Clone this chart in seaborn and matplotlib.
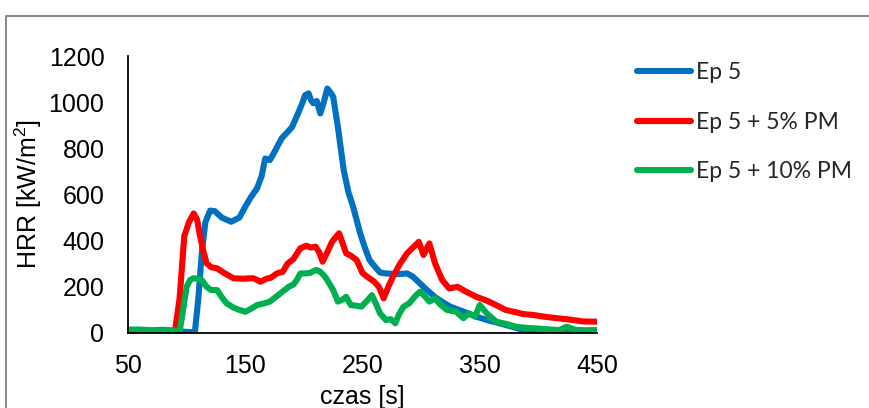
import numpy as np
import pandas as pd
import matplotlib
matplotlib.use("Agg")
import matplotlib.pyplot as plt
import seaborn as sns
from matplotlib.lines import Line2D

# ---- data ----
t_ep5 = [50, 70, 90, 100, 107, 110, 113, 116, 120, 124, 130, 138, 145, 150, 155, 160, 164, 167, 171,
         175, 181, 186, 190, 195, 199, 201, 204, 206, 208, 211, 214, 217, 220, 223, 225, 229, 234,
         238, 242, 248, 252, 256, 261, 265, 270, 280, 288, 293, 299, 305, 312, 318, 325, 335, 347,
         357, 367, 377, 387, 395, 410, 430, 450]
v_ep5 = [10, 10, 8, 5, 3, 150, 350, 480, 530, 528, 500, 482, 500, 547, 590, 626, 680, 756, 749,
         785, 843, 870, 893, 951, 1000, 1030, 1038, 1010, 995, 1005, 951, 1000, 1059, 1040, 1023, 893, 705,
         610, 547, 432, 370, 316, 285, 262, 258, 255, 258, 244, 215, 186, 155, 135, 114, 95, 71,
         55, 42, 28, 13, 8, 6, 5, 5]

t_pm5 = [50, 70, 85, 90, 94, 98, 102, 106, 109, 111, 114, 117, 121, 126, 132, 140, 148, 154, 157,
         160, 163, 168, 172, 177, 182, 186, 191, 197, 202, 206, 210, 213, 216, 220, 224, 228, 230,
         233, 236, 240, 245, 250, 254, 260, 264, 268, 272, 276, 282, 288, 294, 298, 302, 307, 312,
         318, 324, 331, 338, 347, 356, 364, 372, 379, 387, 396, 406, 416, 427, 438, 450]
v_pm5 = [8, 8, 8, 5, 150, 420, 480, 518, 490, 432, 360, 302, 285, 280, 260, 237, 235, 237, 237,
         230, 222, 235, 240, 258, 265, 300, 320, 367, 378, 370, 374, 350, 309, 350, 395, 420, 432,
         390, 345, 335, 316, 260, 244, 222, 200, 150, 200, 244, 300, 345, 375, 395, 338, 388, 300,
         229, 193, 200, 180, 157, 140, 121, 100, 92, 82, 78, 70, 64, 58, 50, 49]

t_pm10 = [50, 60, 70, 80, 88, 94, 97, 100, 103, 106, 110, 113, 117, 121, 126, 130, 134, 140, 145,
          150, 155, 160, 166, 171, 177, 182, 187, 191, 194, 197, 201, 205, 209, 211, 214, 217, 220,
          225, 229, 233, 236, 240, 245, 249, 254, 258, 262, 265, 270, 274, 278, 281, 285, 290, 295,
          299, 303, 307, 312, 316, 322, 330, 336, 341, 346, 350, 356, 364, 372, 381, 390, 398, 410,
          418, 424, 432, 440, 450]
v_pm10 = [15, 15, 12, 14, 12, 5, 100, 200, 230, 237, 235, 229, 200, 186, 186, 155, 129, 110, 100,
          92, 105, 121, 128, 136, 160, 180, 200, 210, 230, 258, 258, 260, 270, 273, 265, 250, 229,
          186, 136, 145, 157, 121, 118, 114, 140, 164, 120, 85, 56, 60, 42, 80, 114, 129, 160,
          179, 160, 136, 150, 125, 100, 92, 64, 85, 71, 121, 85, 49, 40, 27, 22, 20, 15,
          13, 27, 13, 12, 13]

series_names = ["Ep 5", "Ep 5 + 5% PM", "Ep 5 + 10% PM"]
series_colors = ["#0070C0", "#FF0000", "#00B050"]
x_ticks = [50, 150, 250, 350, 450]
y_ticks = [0, 200, 400, 600, 800, 1000, 1200]

df = pd.concat([
    pd.DataFrame({"czas": t_ep5, "HRR": v_ep5, "seria": series_names[0]}),
    pd.DataFrame({"czas": t_pm5, "HRR": v_pm5, "seria": series_names[1]}),
    pd.DataFrame({"czas": t_pm10, "HRR": v_pm10, "seria": series_names[2]}),
], ignore_index=True)

sns.set_theme(style="white")
plt.rcParams["font.family"] = ["Liberation Sans", "DejaVu Sans"]
plt.rcParams["mathtext.fontset"] = "custom"
plt.rcParams["mathtext.rm"] = "Liberation Sans"
plt.rcParams["mathtext.it"] = "Liberation Sans:italic"

W, H = 869, 408
fig = plt.figure(figsize=(W / 100, H / 100), dpi=100)
ax = fig.add_axes([128 / W, 1 - 333 / H, (597 - 128) / W, (333 - 56) / H])

LW = 4.4
sns.lineplot(data=df, x="czas", y="HRR", hue="seria", hue_order=series_names,
             palette=series_colors, linewidth=LW, ax=ax, legend=False,
             solid_capstyle="round", solid_joinstyle="round")

ax.set_xlim(50, 450)
ax.set_ylim(0, 1200)
ax.set_xticks(x_ticks)
ax.set_yticks(y_ticks)
ax.tick_params(axis="both", which="major", labelsize=18, colors="black",
               direction="out", length=6, width=1.3, pad=9)
ax.tick_params(axis="y", pad=11)
for s in ["top", "right"]:
    ax.spines[s].set_visible(False)
for s in ["left", "bottom"]:
    ax.spines[s].set_color("black")
    ax.spines[s].set_linewidth(1.3)
ax.grid(False)
ax.set_xlabel("czas [s]", fontsize=18, color="black")
ax.set_ylabel("HRR [kW/m$^2$]", fontsize=18, color="black")
ax.yaxis.set_label_coords(-(128 - 44) / (597 - 128), 0.5)
ax.xaxis.set_label_coords(0.5, -(385 - 333) / (333 - 56))

handles = [Line2D([0], [0], color=c, lw=LW, solid_capstyle="round") for c in series_colors]
fig.legend(handles, series_names, loc="upper left",
           bbox_to_anchor=(628 / W, 1 - 53 / H), frameon=False,
           prop={"family": "Lato", "size": 16.5}, handlelength=2.35,
           handletextpad=0.22, labelspacing=1.25, borderaxespad=0)

# outer chart frame (partly cut off, as in the reference)
fig.add_artist(Line2D([6 / W, 6 / W, 1.01], [-0.01, 1 - 16 / H, 1 - 16 / H],
                      transform=fig.transFigure, color="#8c8c8c", lw=1.5))

fig.savefig("out.png", dpi=100)
